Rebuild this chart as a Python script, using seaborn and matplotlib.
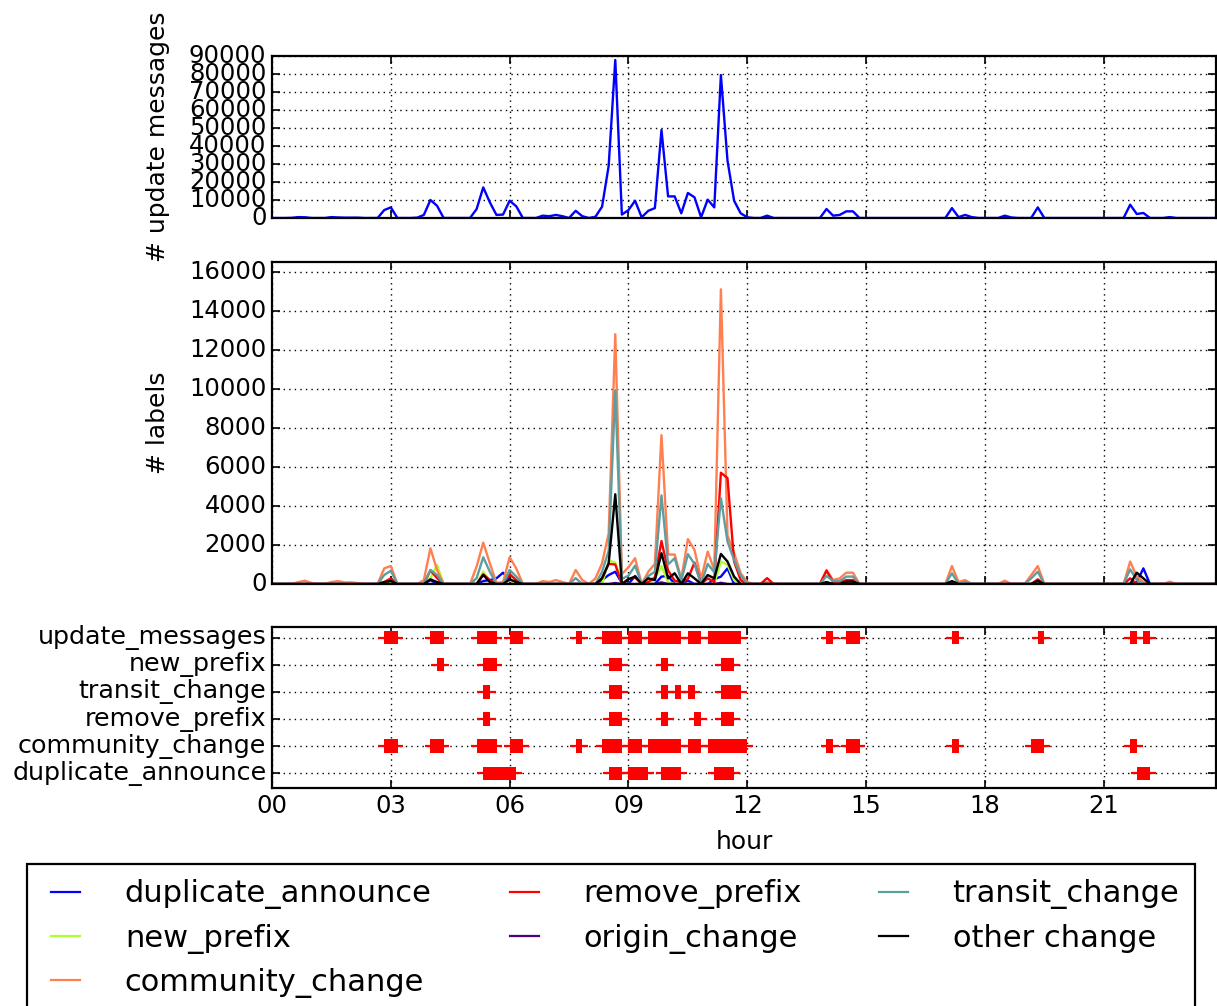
import numpy as np
import matplotlib
matplotlib.use("Agg")
import matplotlib.pyplot as plt
import matplotlib.ticker as mticker
import seaborn as sns

# ---------------- data (10-minute bins, index 0..143) ----------------
N_BINS = 144
hour_ticks = [0, 3, 6, 9, 12, 15, 18, 21]
hour_labels = ["00", "03", "06", "09", "12", "15", "18", "21"]

update_messages = {3: 100, 4: 500, 5: 400, 9: 500, 10: 300, 11: 200, 12: 200, 13: 200,
                   17: 4400, 18: 5900, 22: 200, 23: 1700, 24: 10000, 25: 6800,
                   31: 5000, 32: 17000, 33: 8700, 34: 1700, 35: 1900, 36: 9600, 37: 6500,
                   41: 1300, 42: 1000, 43: 1700, 44: 1000, 46: 4000, 47: 1000, 49: 700,
                   50: 6300, 51: 29000, 52: 87800, 53: 1900, 54: 4400, 55: 9600, 56: 400,
                   57: 4000, 58: 5500, 59: 48900, 60: 12000, 61: 12000, 62: 2600, 63: 13900,
                   64: 11500, 65: 400, 66: 10200, 67: 5900, 68: 79400, 69: 31900, 70: 9600,
                   71: 2600, 72: 400, 75: 1300, 84: 5000, 85: 1300, 86: 1700, 87: 3700,
                   88: 3700, 103: 5500, 104: 500, 105: 1700, 106: 500, 111: 1300, 112: 300,
                   116: 5900, 130: 7400, 131: 2200, 132: 2800, 136: 500}

duplicate_announce = {24: 200, 32: 150, 33: 200, 34: 290, 35: 580, 36: 200, 50: 200, 51: 460,
                      52: 630, 53: 50, 55: 410, 59: 380, 60: 410, 63: 170, 67: 240, 68: 380,
                      69: 800, 131: 100, 132: 800}
new_prefix = {17: 50, 18: 100, 24: 300, 25: 970, 32: 630, 33: 150, 36: 200, 51: 1200, 52: 1100,
              58: 260, 59: 920, 60: 100, 68: 1150, 69: 980, 70: 200, 84: 50, 103: 80, 116: 60}
community_change = {4: 100, 5: 170, 6: 50, 9: 100, 10: 150, 11: 80, 12: 80, 13: 50, 17: 800,
                    18: 920, 23: 200, 24: 1830, 25: 720, 31: 900, 32: 2120, 33: 1060, 34: 50,
                    35: 100, 36: 1370, 37: 800, 41: 150, 42: 100, 43: 200, 44: 100, 46: 720,
                    47: 200, 49: 290, 50: 1060, 51: 2600, 52: 12800, 53: 510, 54: 860,
                    55: 1320, 57: 630, 58: 1030, 59: 7630, 60: 1510, 61: 1510, 62: 260,
                    63: 2300, 64: 1750, 65: 260, 66: 1660, 67: 720, 68: 15100, 69: 2500,
                    70: 1580, 71: 550, 72: 100, 75: 100, 84: 720, 85: 200, 86: 290, 87: 580,
                    88: 580, 103: 920, 104: 100, 105: 200, 111: 170, 115: 450, 116: 920,
                    130: 1150, 131: 380, 132: 100, 136: 120}
remove_prefix = {17: 100, 18: 290, 24: 700, 25: 300, 32: 500, 33: 200, 36: 500, 37: 200,
                 50: 300, 51: 1030, 52: 1000, 54: 260, 55: 340, 57: 100, 58: 340, 59: 2200,
                 60: 690, 61: 170, 62: 100, 63: 260, 64: 1100, 66: 290, 67: 100, 68: 5700,
                 69: 5430, 70: 1150, 71: 200, 75: 300, 84: 680, 85: 100, 86: 100, 87: 200,
                 88: 200, 103: 100, 116: 240, 130: 290}
origin_change = {52: 50, 59: 80, 68: 60}
transit_change = {17: 460, 18: 680, 24: 720, 25: 460, 31: 300, 32: 1370, 33: 630, 36: 720,
                  37: 380, 46: 300, 50: 630, 51: 1700, 52: 9920, 53: 260, 54: 430, 55: 940,
                  57: 410, 58: 630, 59: 4540, 60: 1000, 61: 1320, 62: 170, 63: 1530, 64: 1030,
                  66: 1030, 67: 600, 68: 4400, 69: 2180, 70: 1230, 71: 430, 84: 410, 85: 150,
                  86: 150, 87: 380, 88: 380, 103: 550, 105: 100, 115: 290, 116: 630,
                  130: 750, 131: 200}
other_change = {17: 100, 18: 150, 24: 240, 25: 100, 32: 460, 33: 100, 36: 240, 37: 100,
                50: 290, 51: 1060, 52: 4600, 54: 240, 55: 380, 57: 290, 58: 200, 59: 1580,
                60: 290, 61: 550, 63: 550, 64: 290, 66: 460, 67: 290, 68: 1540, 69: 1150,
                70: 380, 84: 100, 87: 120, 88: 120, 103: 150, 116: 150, 131: 580, 132: 290}

label_series = [("duplicate_announce", duplicate_announce, "blue"),
                ("new_prefix", new_prefix, "greenyellow"),
                ("community_change", community_change, "coral"),
                ("remove_prefix", remove_prefix, "red"),
                ("origin_change", origin_change, "indigo"),
                ("transit_change", transit_change, "cadetblue"),
                ("other change", other_change, "black")]

# event bins per row (bottom panel)
event_rows = ["duplicate_announce", "community_change", "remove_prefix",
              "transit_change", "new_prefix", "update_messages"]
ev_update_messages = [17, 18, 24, 25, 31, 32, 33, 36, 37, 46, 50, 51, 52, 54, 55, 57, 58, 59,
                      60, 61, 63, 64, 66, 67, 68, 69, 70, 84, 87, 88, 103, 116, 130, 132]
ev_new_prefix = [25, 32, 33, 51, 52, 59, 68, 69]
ev_transit_change = [32, 51, 52, 59, 61, 63, 68, 69, 70]
ev_remove_prefix = [32, 51, 52, 59, 64, 68, 69]
ev_community_change = [17, 18, 24, 25, 31, 32, 33, 36, 37, 46, 50, 51, 52, 54, 55, 57, 58, 59,
                       60, 61, 63, 64, 66, 67, 68, 69, 70, 71, 84, 87, 88, 103, 115, 116, 130]
ev_duplicate_announce = [32, 33, 34, 35, 36, 51, 52, 54, 55, 56, 59, 60, 61, 67, 68, 69,
                         131, 132]
events = [ev_duplicate_announce, ev_community_change, ev_remove_prefix,
          ev_transit_change, ev_new_prefix, ev_update_messages]

# ---------------- helpers ----------------
hours = np.arange(N_BINS) / 6.0


def series(d):
    arr = np.zeros(N_BINS)
    for k, v in d.items():
        arr[k] = v
    return arr


# ---------------- style ----------------
plt.style.use("classic")
plt.rcParams.update({
    "figure.facecolor": "white",
    "savefig.facecolor": "white",
    "font.family": ["DejaVu Sans"],
    "axes.linewidth": 1.6,
    "xtick.major.size": 5.5,
    "ytick.major.size": 5.5,
    "xtick.major.width": 1.2,
    "ytick.major.width": 1.2,
    "xtick.direction": "in",
    "ytick.direction": "in",
    "xtick.top": True,
    "ytick.right": True,
    "grid.linestyle": ":",
    "grid.color": "black",
    "grid.linewidth": 1.0,
})
TICK_FS = 17.5
CAT_FS = 18.3
LABEL_FS = 18

fig = plt.figure(figsize=(12.17, 10.06), dpi=100)
left = 272 / 1217
width = (1216 - 272) / 1217
ax1 = fig.add_axes([left, 1 - 218 / 1006, width, 162 / 1006])
ax2 = fig.add_axes([left, 1 - 584 / 1006, width, 322 / 1006])
ax3 = fig.add_axes([left, 1 - 788 / 1006, width, 161 / 1006])

xmax = hours[-1]

# top: update messages
sns.lineplot(x=hours, y=series(update_messages), ax=ax1, color="blue", lw=1.7,
             estimator=None, legend=False)
ax1.set_ylim(0, 90000)
ax1.set_yticks(np.arange(0, 90001, 10000))
ax1.yaxis.set_major_formatter(mticker.FormatStrFormatter("%d"))
ax1.set_ylabel("# update messages", fontsize=LABEL_FS, labelpad=14)

# middle: labels
for name, d, col in label_series:
    sns.lineplot(x=hours, y=series(d), ax=ax2, color=col, lw=1.7, label=name,
                 estimator=None, legend=False)
ax2.set_ylim(0, 16500)
ax2.set_yticks(np.arange(0, 16001, 2000))
ax2.yaxis.set_major_formatter(mticker.FormatStrFormatter("%d"))
ax2.set_ylabel("# labels", fontsize=LABEL_FS, labelpad=14)

# bottom: events
rect = [(-0.26, -0.5), (0.26, -0.5), (0.26, 0.5), (-0.26, 0.5)]
for row_idx, ev in enumerate(events):
    ev_hours = (np.array(ev) * 10 + 5) / 60.0
    yy = np.full(len(ev_hours), row_idx)
    ax3.errorbar(ev_hours, yy, xerr=0.23, fmt="none", ecolor="red", elinewidth=1.6,
                 capsize=0, zorder=3)
    sns.scatterplot(x=ev_hours, y=yy, ax=ax3, marker=rect, s=90, color="red",
                    edgecolor="none", zorder=4, legend=False)
ax3.set_ylim(-0.55, 5.4)
ax3.set_yticks(range(len(event_rows)))
ax3.set_ylabel("")

for ax in (ax1, ax2, ax3):
    ax.set_xlim(0, xmax)
    ax.set_xticks(hour_ticks)
    ax.grid(True)
    ax.set_axisbelow(True)
    ax.tick_params(labelsize=TICK_FS)
ax3.set_yticklabels(event_rows, fontsize=CAT_FS)
ax1.set_xticklabels([])
ax2.set_xticklabels([])
ax1.set_xlabel("")
ax2.set_xlabel("")
ax3.set_xticklabels(hour_labels)
ax3.set_xlabel("hour", fontsize=LABEL_FS, labelpad=9)

handles, labels = ax2.get_legend_handles_labels()
leg = fig.legend(handles, labels, loc="upper left",
                 bbox_to_anchor=(27 / 1217, 1 - 864 / 1006), borderaxespad=0,
                 ncol=3, fontsize=22, handlelength=1.55, handletextpad=1.15,
                 columnspacing=2.25, labelspacing=0.47, borderpad=0.5,
                 frameon=True, fancybox=False)
leg.get_frame().set_edgecolor("black")
leg.get_frame().set_linewidth(1.6)
for lh in leg.get_lines():
    lh.set_linewidth(1.6)

fig.savefig("out.png", dpi=100)
